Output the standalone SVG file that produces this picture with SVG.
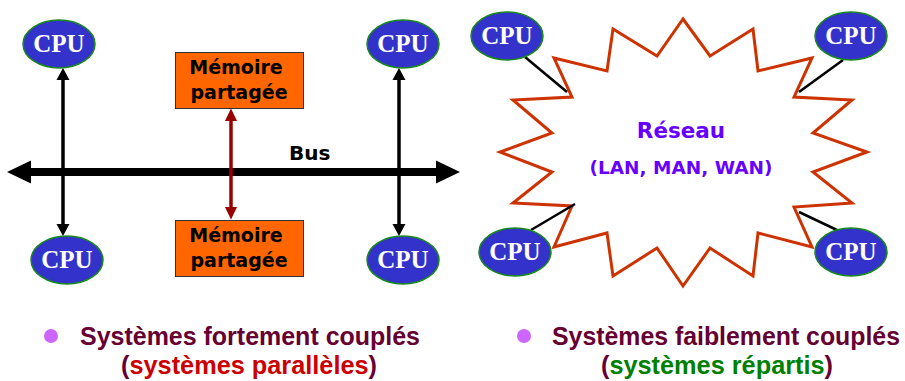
<svg xmlns="http://www.w3.org/2000/svg" width="905" height="381" viewBox="0 0 905 381">
  <style>
    .cpu ellipse { fill: #3333CC; stroke: #1A8A1A; stroke-width: 1.5; }
    .cpu text { font-family: "Liberation Serif", "Times New Roman", serif; font-weight: bold; font-size: 25px; fill: #FFFFFF; text-anchor: middle; }
    .mem rect { fill: #FF6600; stroke: #333333; stroke-width: 1; }
    .mem text { font-family: "DejaVu Sans", Verdana, sans-serif; font-weight: bold; font-size: 19px; fill: #000000; text-anchor: middle; }
    .bus-label { font-family: "DejaVu Sans", Verdana, sans-serif; font-weight: bold; font-size: 20px; fill: #000000; }
    .net-label { font-family: "DejaVu Sans", Verdana, sans-serif; font-weight: bold; fill: #6600FF; text-anchor: middle; }
    .link { stroke: #000000; stroke-width: 3.5; fill: none; }
    .head { fill: #000000; }
    .mem-link { stroke: #990000; stroke-width: 3.5; fill: none; }
    .mem-head { fill: #990000; }
    .wire { stroke: #000000; stroke-width: 2.5; fill: none; }
    .caption { font-family: "Liberation Sans", Arial, sans-serif; font-weight: bold; font-size: 25px; fill: #660033; }
    .bullet { fill: #CC66FF; }
  </style>

  <!-- Shared bus: heavy double-headed arrow -->
  <g id="bus">
    <line x1="30" y1="172" x2="440" y2="172" stroke="#000000" stroke-width="8"/>
    <polygon points="7,172 31,160.5 31,183.5" fill="#000000"/>
    <polygon points="460,172 436,160.5 436,183.5" fill="#000000"/>
    <text class="bus-label" x="289" y="160">Bus</text>
  </g>

  <!-- Network cloud -->
  <g id="reseau">
    <polygon fill="#FFFFFF" stroke="#CC3300" stroke-width="3" stroke-linejoin="miter"
      points="683,19 710,56 753,29 758,71 812,58 794,97 852,100 813,133 867,152 813,172 852,203 794,207 812,247 758,233 753,276 710,248 683,286 657,248 613,276 607,233 554,247 572,206 513,203 552,172 500,152 552,133 513,100 572,97 554,58 607,71 613,29 657,56"/>
    <text class="net-label" x="681" y="138" font-size="21.5">Réseau</text>
    <text class="net-label" x="681" y="174" font-size="18.5">(LAN, MAN, WAN)</text>
  </g>

  <!-- Connectors -->
  <g id="connectors">
    <!-- left processor pair on the bus -->
    <line class="link" x1="63" y1="78" x2="63" y2="226"/>
    <polygon class="head" points="63,68 56.5,80 69.5,80"/>
    <polygon class="head" points="63,236 56.5,224 69.5,224"/>
    <!-- right processor pair on the bus -->
    <line class="link" x1="399" y1="78" x2="399" y2="226"/>
    <polygon class="head" points="399,68 392.5,80 405.5,80"/>
    <polygon class="head" points="399,236 392.5,224 405.5,224"/>
    <!-- memory to memory -->
    <line class="mem-link" x1="231" y1="118" x2="231" y2="210"/>
    <polygon class="mem-head" points="231,108.5 225,121 237,121"/>
    <polygon class="mem-head" points="231,219.5 225,207 237,207"/>
    <!-- processors attached to the network -->
    <line class="wire" x1="525" y1="57" x2="567" y2="92"/>
    <line class="wire" x1="843" y1="60" x2="799" y2="92"/>
    <line class="wire" x1="531" y1="230" x2="575" y2="204"/>
    <line class="wire" x1="837" y1="230" x2="799" y2="212"/>
  </g>

  <!-- Processors of the tightly coupled system -->
  <g id="cpu-p1" class="cpu"><ellipse cx="59" cy="44" rx="36" ry="24"/><text x="59" y="52">CPU</text></g>
  <g id="cpu-p2" class="cpu"><ellipse cx="403" cy="44" rx="36" ry="24"/><text x="403" y="52">CPU</text></g>
  <g id="cpu-p3" class="cpu"><ellipse cx="67" cy="260" rx="36" ry="24"/><text x="67" y="268">CPU</text></g>
  <g id="cpu-p4" class="cpu"><ellipse cx="403" cy="260" rx="36" ry="24"/><text x="403" y="268">CPU</text></g>

  <!-- Shared memory blocks -->
  <g id="mem-top" class="mem">
    <rect x="175.5" y="52.5" width="128" height="56"/>
    <text x="236" y="74">Mémoire</text>
    <text x="239" y="99">partagée</text>
  </g>
  <g id="mem-bottom" class="mem">
    <rect x="175.5" y="220.5" width="128" height="56"/>
    <text x="236" y="242">Mémoire</text>
    <text x="239" y="267">partagée</text>
  </g>

  <!-- Processors of the loosely coupled system -->
  <g id="cpu-r1" class="cpu"><ellipse cx="507" cy="36" rx="36" ry="24"/><text x="507" y="44">CPU</text></g>
  <g id="cpu-r2" class="cpu"><ellipse cx="851" cy="36" rx="36" ry="24"/><text x="851" y="44">CPU</text></g>
  <g id="cpu-r3" class="cpu"><ellipse cx="515" cy="252" rx="36" ry="24"/><text x="515" y="260">CPU</text></g>
  <g id="cpu-r4" class="cpu"><ellipse cx="851" cy="252" rx="36" ry="24"/><text x="851" y="260">CPU</text></g>

  <!-- Captions -->
  <g id="caption-left">
    <circle class="bullet" cx="51" cy="336" r="7"/>
    <text class="caption" x="80" y="345" textLength="340" lengthAdjust="spacingAndGlyphs">Systèmes fortement couplés</text>
    <text class="caption" x="121" y="374" textLength="256" lengthAdjust="spacingAndGlyphs">(<tspan fill="#CC0000">systèmes parallèles</tspan>)</text>
  </g>
  <g id="caption-right">
    <circle class="bullet" cx="524" cy="336" r="7"/>
    <text class="caption" x="552" y="345" textLength="348" lengthAdjust="spacingAndGlyphs">Systèmes faiblement couplés</text>
    <text class="caption" x="601" y="374" textLength="232" lengthAdjust="spacingAndGlyphs">(<tspan fill="#008000">systèmes répartis</tspan>)</text>
  </g>
</svg>
